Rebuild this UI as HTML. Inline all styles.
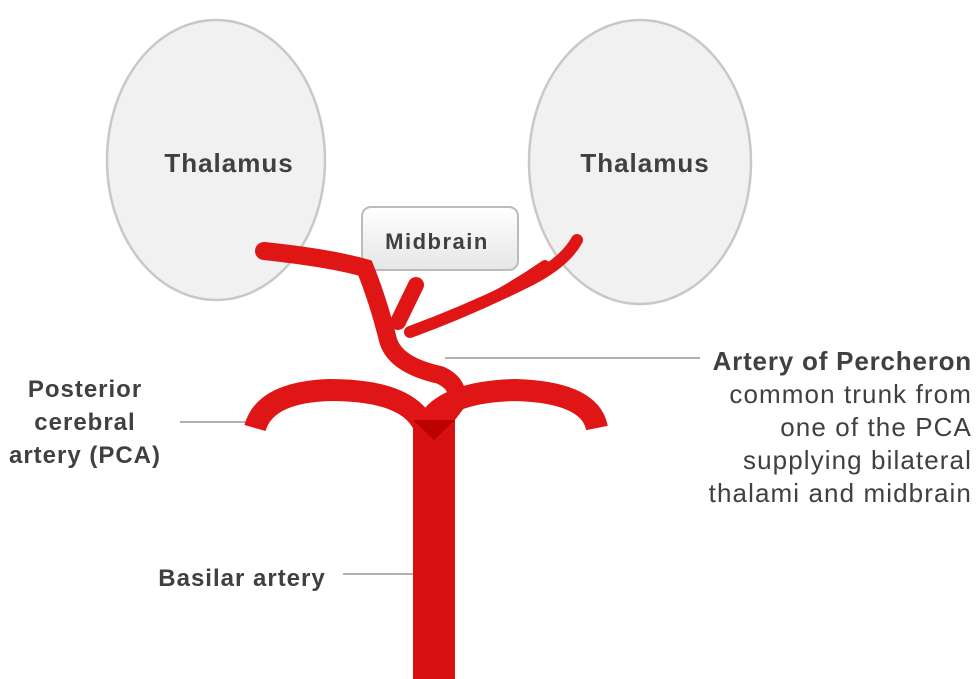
<!DOCTYPE html>
<html><head><style>
body{margin:0;background:#fff;}
svg{display:block;font-family:"Liberation Sans",sans-serif;}
</style></head><body>
<svg width="977" height="679" viewBox="0 0 977 679">
<defs>
<linearGradient id="mb" x1="0" y1="0" x2="0" y2="1"><stop offset="0" stop-color="#fff"/><stop offset="1" stop-color="#e6e6e6"/></linearGradient>
</defs>
<ellipse cx="216" cy="160" rx="109" ry="140" fill="#f1f1f1" stroke="#c8c8c8" stroke-width="2.5"/>
<ellipse cx="640" cy="162" rx="111" ry="142" fill="#f1f1f1" stroke="#c8c8c8" stroke-width="2.5"/>
<rect x="362" y="207" width="156" height="63" rx="9" fill="url(#mb)" stroke="#bbb" stroke-width="2"/>
<text x="437" y="249" font-size="22" letter-spacing="1.5" font-weight="bold" fill="#404040" text-anchor="middle">Midbrain</text>
<text x="229" y="172" font-size="26" letter-spacing="1" font-weight="bold" fill="#404040" text-anchor="middle">Thalamus</text>
<text x="645" y="172" font-size="26" letter-spacing="1" font-weight="bold" fill="#404040" text-anchor="middle">Thalamus</text>
<g stroke="#999" stroke-width="1.5">
<line x1="180" y1="422" x2="250" y2="422"/>
<line x1="343" y1="574" x2="413" y2="574"/>
<line x1="445" y1="358" x2="700" y2="358"/>
</g>
<g fill="none" stroke="#e01515" stroke-linecap="round">
<path d="M264 251 Q330 258 365 268 Q378 300 388 340 Q395 365 440 375 Q462 385 455 405 L440 425" stroke-width="18"/>
<path d="M398 322 L416 285" stroke-width="16"/>
<path d="M410 332 Q470 310 530 280 Q565 262 577 240" stroke-width="12"/>
<path d="M415 330 Q480 310 545 265" stroke-width="10"/>
</g>
<g fill="none" stroke="#e01515" stroke-width="22">
<path d="M255 428 Q265 392 330 390 Q410 390 425 428"/>
<path d="M425 428 Q440 392 515 390 Q590 392 597 428"/>
</g>
<rect x="413" y="420" width="42" height="259" fill="#d81010"/>
<polygon points="413,420 455,420 434,440" fill="#b00"/>
<g fill="#404040" font-size="24" letter-spacing="1" font-weight="bold">
<text x="85" y="397" text-anchor="middle">Posterior</text>
<text x="85" y="430" text-anchor="middle">cerebral</text>
<text x="85" y="463" text-anchor="middle">artery (PCA)</text>
<text x="242" y="586" text-anchor="middle">Basilar artery</text>
</g>
<g fill="#404040" text-anchor="end" font-size="26">
<text x="972" y="370" font-weight="bold" letter-spacing="0.8">Artery of Percheron</text>
<g letter-spacing="1.1">
<text x="972" y="403">common trunk from</text>
<text x="972" y="436">one of the PCA</text>
<text x="972" y="469">supplying bilateral</text>
<text x="972" y="502">thalami and midbrain</text>
</g>
</g>
</svg>
</body></html>
